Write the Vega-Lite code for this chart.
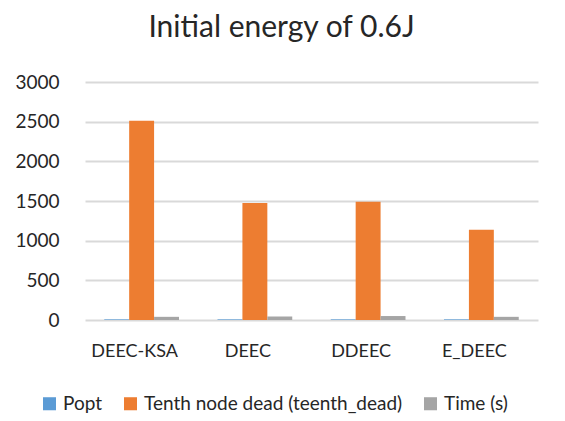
{
  "$schema": "https://vega.github.io/schema/vega-lite/v6.json",
  "autosize": "none",
  "width": 453,
  "height": 238,
  "padding": {"left": 85, "top": 82, "right": 27, "bottom": 101},
  "background": "white",
  "title": {
    "text": "Initial energy of 0.6J",
    "fontSize": 30,
    "font": "Lato",
    "fontWeight": "normal",
    "color": "#262626",
    "anchor": "middle",
    "offset": 30,
    "dx": -30
  },
  "data": {
    "values": [
      {"protocol": "DEEC-KSA", "series": "Popt", "value": 8},
      {"protocol": "DEEC-KSA", "series": "Tenth node dead (teenth_dead)", "value": 2510},
      {"protocol": "DEEC-KSA", "series": "Time (s)", "value": 40},
      {"protocol": "DEEC", "series": "Popt", "value": 8},
      {"protocol": "DEEC", "series": "Tenth node dead (teenth_dead)", "value": 1475},
      {"protocol": "DEEC", "series": "Time (s)", "value": 45},
      {"protocol": "DDEEC", "series": "Popt", "value": 8},
      {"protocol": "DDEEC", "series": "Tenth node dead (teenth_dead)", "value": 1490},
      {"protocol": "DDEEC", "series": "Time (s)", "value": 50},
      {"protocol": "E_DEEC", "series": "Popt", "value": 8},
      {"protocol": "E_DEEC", "series": "Tenth node dead (teenth_dead)", "value": 1137},
      {"protocol": "E_DEEC", "series": "Time (s)", "value": 40}
    ]
  },
  "mark": {"type": "bar"},
  "encoding": {
    "x": {
      "field": "protocol",
      "type": "nominal",
      "sort": ["DEEC-KSA", "DEEC", "DDEEC", "E_DEEC"],
      "scale": {"paddingInner": 0.34, "paddingOuter": 0.17},
      "axis": {
        "title": null,
        "labelAngle": 0,
        "ticks": false,
        "domain": false,
        "labelPadding": 22,
        "labelOffset": -7,
        "labelFontSize": 18,
        "labelFont": "Lato",
        "labelColor": "#262626"
      }
    },
    "xOffset": {
      "field": "series",
      "type": "nominal",
      "sort": ["Popt", "Tenth node dead (teenth_dead)", "Time (s)"],
      "scale": {"paddingInner": 0}
    },
    "y": {
      "field": "value",
      "type": "quantitative",
      "scale": {"domain": [0, 3000]},
      "axis": {
        "title": null,
        "values": [0, 500, 1000, 1500, 2000, 2500, 3000],
        "format": "d",
        "ticks": false,
        "domain": false,
        "labelPadding": 26,
        "labelFontSize": 19,
        "labelFont": "Lato",
        "labelColor": "#262626",
        "gridColor": "#d9d9d9",
        "gridWidth": 2
      }
    },
    "color": {
      "field": "series",
      "type": "nominal",
      "sort": ["Popt", "Tenth node dead (teenth_dead)", "Time (s)"],
      "scale": {
        "domain": ["Popt", "Tenth node dead (teenth_dead)", "Time (s)"],
        "range": ["#5B9BD5", "#ED7D31", "#A5A5A5"]
      },
      "legend": {
        "title": null,
        "orient": "none",
        "direction": "horizontal",
        "legendX": -45,
        "legendY": 312,
        "symbolType": "square",
        "symbolSize": 170,
        "symbolStrokeWidth": 0,
        "labelFontSize": 19,
        "labelFont": "Lato",
        "labelColor": "#262626",
        "columnPadding": 18,
        "labelOffset": 4,
        "labelLimit": 400
      }
    }
  },
  "config": {
    "view": {"stroke": null}
  }
}
